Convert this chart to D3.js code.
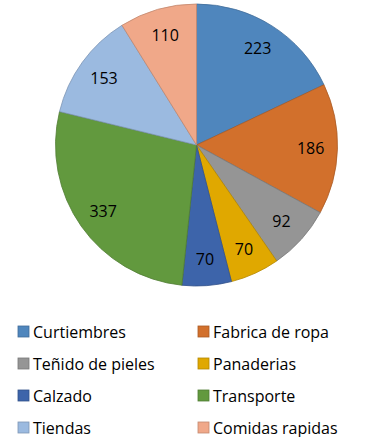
<!DOCTYPE html>
<html>
<head>
<meta charset="utf-8">
<script src="https://cdn.jsdelivr.net/npm/d3@7"></script>
<style>
  body { margin: 0; background: #fff; }
  text { font-family: "Open Sans", sans-serif; fill: #000; }
</style>
</head>
<body>
<div id="chart"></div>
<script>
// data
const categories = ["Curtiembres", "Fabrica de ropa", "Teñido de pieles", "Panaderias",
                    "Calzado", "Transporte", "Tiendas", "Comidas rapidas"];
const values = [223, 186, 92, 70, 70, 337, 153, 110];
const colors = ["#4F86BD", "#D2702C", "#959595", "#E0A800",
                "#3D64AA", "#62993E", "#9BBAE0", "#F0A889"];

const width = 378, height = 437;
const cx = 196.5, cy = 145, radius = 141;

const svg = d3.select("#chart").append("svg")
    .attr("width", width)
    .attr("height", height);

const data = categories.map((c, i) => ({name: c, value: values[i], color: colors[i]}));

const pie = d3.pie()
    .sort(null)
    .value(d => d.value);

const arc = d3.arc()
    .innerRadius(0)
    .outerRadius(radius);

const labelArc = d3.arc()
    .innerRadius(radius * 0.81)
    .outerRadius(radius * 0.81);

const g = svg.append("g")
    .attr("transform", `translate(${cx}, ${cy})`);

// slices
g.selectAll(".slice")
    .data(pie(data))
    .enter().append("path")
    .attr("class", "slice")
    .attr("d", arc)
    .attr("fill", d => d.data.color)
    .attr("stroke", d => d3.color(d.data.color).darker(0.6))
    .attr("stroke-width", 0.8);

// value labels
g.selectAll(".label")
    .data(pie(data))
    .enter().append("text")
    .attr("class", "label")
    .attr("transform", d => `translate(${labelArc.centroid(d)})`)
    .attr("text-anchor", "middle")
    .attr("dy", "0.36em")
    .style("font-size", "16px")
    .text(d => d.data.value);

// legend, two columns
const legend = svg.append("g")
    .attr("class", "legend");

const items = legend.selectAll(".item")
    .data(data)
    .enter().append("g")
    .attr("class", "item")
    .attr("transform", (d, i) => `translate(${i % 2 === 0 ? 18 : 198}, ${326 + Math.floor(i / 2) * 32})`);

items.append("rect")
    .attr("width", 11)
    .attr("height", 11)
    .attr("fill", d => d.color)
    .attr("stroke", d => d3.color(d.color).darker(0.6))
    .attr("stroke-width", 0.8);

items.append("text")
    .attr("x", 15)
    .attr("y", 11.5)
    .style("font-size", "16px")
    .text(d => d.name);
</script>
</body>
</html>
